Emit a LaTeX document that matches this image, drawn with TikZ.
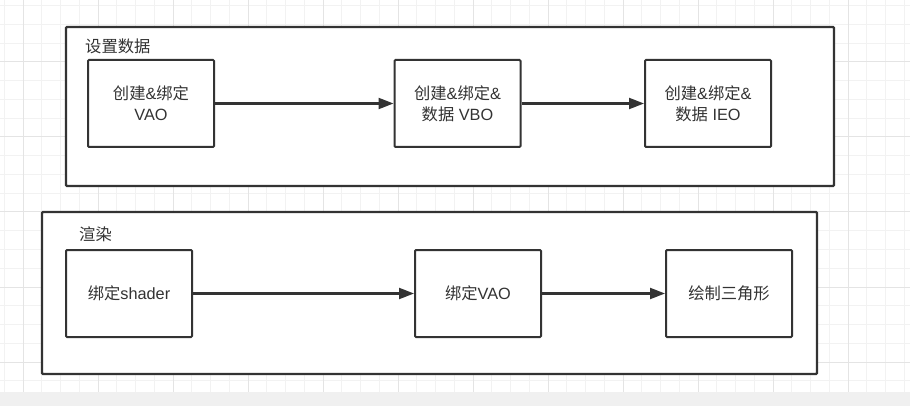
\documentclass[tikz,border=0pt]{standalone}
\usepackage{fontspec}
\setmainfont{Noto Sans CJK SC}
\newfontfamily\lat{Liberation Sans}
\usetikzlibrary{arrows.meta}
\definecolor{ink}{HTML}{333333}
\definecolor{gridminor}{HTML}{F2F2F2}
\definecolor{gridmajor}{HTML}{E4E4E4}
\definecolor{strip}{HTML}{F0F0F0}
\newcommand{\la}[1]{{\lat #1}}
\begin{document}
\begin{tikzpicture}[x=1pt,y=-1pt,
  stepbox/.style={draw=ink, line width=2pt, fill=white, rounded corners=1pt,
    minimum width=126pt, minimum height=87pt, inner sep=0pt, align=center,
    font=\fontsize{16.3}{21}\selectfont, text=ink},
  group/.style={draw=ink, line width=2.3pt, fill=white, rounded corners=1pt, inner sep=0pt},
  grouplabel/.style={anchor=west, inner sep=0pt, font=\fontsize{16.3}{21}\selectfont, text=ink},
  flow/.style={draw=ink, line width=2.2pt, -{Triangle[length=15pt,width=11pt]}}]
\useasboundingbox (0,0) rectangle (910,406);
% canvas with grid
\fill[white] (0,0) rectangle (910,392);
\foreach \i in {0,...,48}
  \draw[gridminor, line width=1pt] ({4.25+18.75*\i},0) -- ({4.25+18.75*\i},392);
\foreach \j in {0,...,20}
  \draw[gridminor, line width=1pt] (0,{5.75+18.75*\j}) -- (910,{5.75+18.75*\j});
\foreach \i in {0,...,11}
  \draw[gridmajor, line width=1pt] ({23+75*\i},0) -- ({23+75*\i},392);
\foreach \j in {0,...,4}
  \draw[gridmajor, line width=1pt] (0,{62+75*\j}) -- (910,{62+75*\j});
\fill[strip] (0,392) rectangle (910,406);

% group: data setup
\node[group, minimum width=768pt, minimum height=159pt] (setup) at (450,106.5) {};
\node[grouplabel] (setuplabel) at (85,46) {设置数据};
\node[stepbox] (vao) at (151,103.5) {创建\la{\&}绑定\\\la{VAO}};
\node[stepbox] (vbo) at (457.5,103.5) {创建\la{\&}绑定\la{\&}\\数据\la{ VBO}};
\node[stepbox] (ieo) at (708,103.5) {创建\la{\&}绑定\la{\&}\\数据\la{ IEO}};
\draw[flow] (vao.east) -- (vbo.west);
\draw[flow] (vbo.east) -- (ieo.west);

% group: rendering
\node[group, minimum width=775pt, minimum height=162pt] (render) at (429.5,293) {};
\node[grouplabel] (renderlabel) at (79,234) {渲染};
\node[stepbox] (shader) at (129,293.5) {绑定\la{shader}};
\node[stepbox] (bindvao) at (478,293.5) {绑定\la{VAO}};
\node[stepbox] (draw) at (729,293.5) {绘制三角形};
\draw[flow] (shader.east) -- (bindvao.west);
\draw[flow] (bindvao.east) -- (draw.west);
\end{tikzpicture}
\end{document}
